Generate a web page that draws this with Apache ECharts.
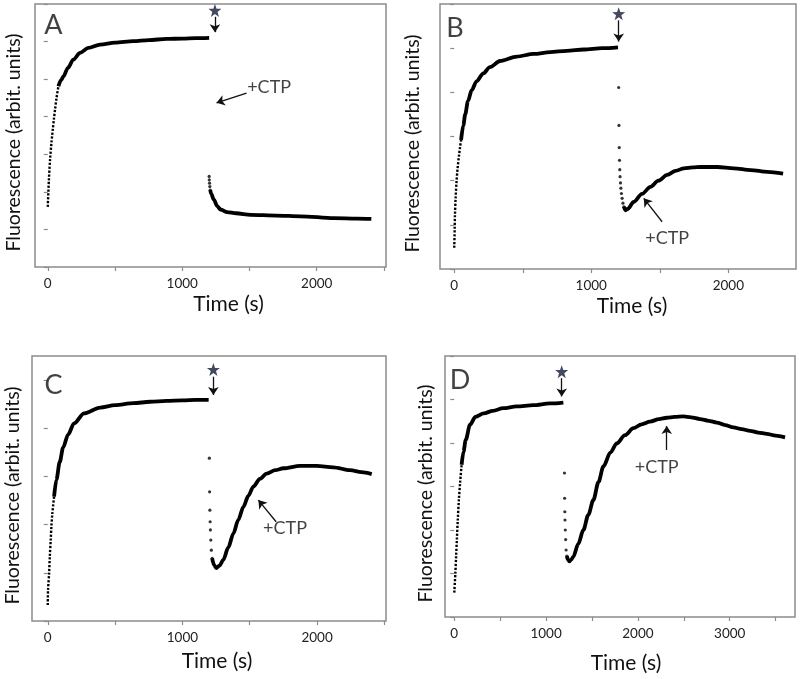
<!DOCTYPE html>
<html>
<head>
<meta charset="utf-8">
<script src="https://cdn.jsdelivr.net/npm/echarts@6/dist/echarts.min.js"></script>
<style>
html,body{margin:0;padding:0;background:#fff;}
#chart{width:800px;height:679px;}
</style>
</head>
<body>
<div id="chart"></div>
<script>
// ---------------- DATA (time in s, fluorescence in arbitrary units) ----------------
// Panel A
const riseSparseA = [[0,1.60],[8,2.3],[17,2.86],[27,3.3],[37,3.65],[46,3.95],[54,4.19],[65,4.5],[79,4.81]];
const riseDenseA = [[79,4.81],[100,4.98],[116,5.07],[150,5.3],[190,5.52],[240,5.7],[301,5.83],[389,5.92],[500,5.97],[636,6.01],[750,6.04],[884,6.07],[1000,6.08],[1100,6.09],[1200,6.10]];
const dropA = [[1200,2.41],[1201,2.32],[1203,2.23],[1205,2.14],[1208,2.05]];
const recoverA = [[1208,2.05],[1215,1.95],[1235,1.79],[1260,1.62],[1285,1.53],[1334,1.46],[1400,1.43],[1508,1.39],[1700,1.37],[1880,1.35],[2128,1.30],[2300,1.29],[2406,1.28]];
// Panel B
const riseSparseB = [[0,0.48],[3,0.9],[5,1.2],[10,1.6],[17,2.0],[25,2.3],[34,2.55],[42,2.75],[50,2.92]];
const riseDenseB = [[50,2.92],[66,3.25],[80,3.5],[100,3.8],[127,4.05],[163,4.25],[212,4.43],[260,4.57],[334,4.71],[456,4.81],[580,4.87],[700,4.91],[820,4.94],[944,4.97],[1080,5.0],[1195,5.02]];
const dropB = [[1200,4.11],[1202,3.25],[1204,2.75],[1206,2.46],[1208,2.25],[1210,2.09],[1213,1.95],[1216,1.83],[1220,1.71],[1225,1.6],[1231,1.49],[1238,1.41]];
const recoverB = [[1238,1.41],[1250,1.33],[1265,1.36],[1310,1.52],[1370,1.7],[1432,1.86],[1490,2.0],[1554,2.13],[1615,2.22],[1676,2.28],[1740,2.3],[1798,2.31],[1920,2.31],[2041,2.28],[2163,2.24],[2285,2.20],[2400,2.16]];
// Panel C
const riseSparseC = [[0,0.33],[2,0.64],[10,0.99],[15,1.33],[22,1.68],[27,1.96],[34,2.23],[47,2.58]];
const riseDenseC = [[47,2.58],[64,2.93],[89,3.3],[114,3.6],[151,3.87],[195,4.1],[270,4.31],[389,4.43],[500,4.48],[636,4.52],[760,4.55],[884,4.57],[1000,4.58],[1100,4.59],[1195,4.59]];
const dropC = [[1200,3.38],[1202,2.68],[1204,2.30],[1206,2.06],[1208,1.89],[1211,1.68],[1215,1.47],[1221,1.3]];
const recoverC = [[1221,1.3],[1235,1.16],[1252,1.10],[1275,1.15],[1304,1.27],[1340,1.52],[1379,1.82],[1415,2.1],[1453,2.37],[1490,2.6],[1527,2.79],[1575,2.95],[1626,3.06],[1690,3.13],[1750,3.17],[1874,3.22],[1998,3.22],[2121,3.19],[2245,3.13],[2330,3.09],[2406,3.05]];
// Panel D
const riseSparseD = [[0,0.56],[12,1.01],[20,1.39],[28,1.77],[38,2.23],[50,2.69],[64,3.1],[80,3.5]];
const riseDenseD = [[80,3.5],[100,3.8],[125,4.07],[171,4.42],[230,4.6],[320,4.68],[420,4.74],[534,4.8],[679,4.84],[861,4.87],[1042,4.91],[1188,4.93]];
const dropD = [[1200,3.31],[1202,2.73],[1204,2.42],[1206,2.23],[1209,2.0],[1213,1.78],[1218,1.54],[1226,1.4]];
const recoverD = [[1226,1.4],[1238,1.32],[1252,1.28],[1275,1.32],[1297,1.39],[1350,1.68],[1406,2.0],[1460,2.35],[1515,2.69],[1570,3.1],[1624,3.46],[1700,3.78],[1769,3.99],[1860,4.18],[1951,4.34],[2040,4.43],[2132,4.49],[2230,4.55],[2314,4.58],[2400,4.60],[2495,4.61],[2580,4.59],[2677,4.55],[2770,4.51],[2859,4.47],[2950,4.41],[3040,4.36],[3130,4.32],[3222,4.28],[3310,4.24],[3404,4.21],[3500,4.17],[3603,4.13]];

// Tick values
const xTicks3 = [0,500,1000,1500,2000,2500];
const xLabels3 = [0,1000,2000];
const xTicks4 = [0,500,1000,1500,2000,2500,3000,3500];
const xLabels4 = [0,1000,2000,3000];
const yTicks7 = [0,1,2,3,4,5,6,7];
const yTicks6 = [0,1,2,3,4,5,6];
const yTicks5 = [0,1,2,3,4,5];

const panelLetters = ['A','B','C','D'];
const xTitle = 'Time (s)';
const yTitle = 'Fluorescence (arbit. units)';
const ctpText = '+CTP';

// ---------------- LAYOUT / ANNOTATION CONFIG ----------------
const panels = [
  {grid:{left:35,top:4,width:351,height:263}, x:[-95,2515], y:[0,7], xt:xTicks3, xl:xLabels3, yt:yTicks7, yGap:11, xGap:27, xPad:36,
   rs:riseSparseA, rd:riseDenseA, dr:dropA, rc:recoverA,
   letter:[42,6.42], star:[1243,6.83], starArrow:[[1243,6.66],[1243,6.25]], ctp:[1646,4.79], ctpArrow:[[1478,4.63],[1255,4.37]]},
  {grid:{left:440,top:4,width:356,height:265}, x:[-104,2494], y:[0,6], xt:xTicks3, xl:xLabels3, yt:yTicks6, yGap:17, xGap:27, xPad:28,
   rs:riseSparseB, rd:riseDenseB, dr:dropB, rc:recoverB,
   letter:[5,5.45], star:[1200,5.78], starArrow:[[1200,5.63],[1200,5.15]], ctp:[1554,0.69], ctpArrow:[[1517,1.07],[1383,1.60]]},
  {grid:{left:32,top:356,width:354,height:265}, x:[-117,2512], y:[0,5.5], xt:xTicks3, xl:xLabels3, yt:yTicks5, yGap:9, xGap:30, xPad:16,
   rs:riseSparseC, rd:riseDenseC, dr:dropC, rc:recoverC,
   letter:[42,4.90], star:[1230,5.22], starArrow:[[1230,5.07],[1230,4.69]], ctp:[1762,1.92], ctpArrow:[[1696,2.06],[1564,2.51]]},
  {grid:{left:445,top:356,width:350,height:261}, x:[-101,3711], y:[0,6], xt:xTicks4, xl:xLabels4, yt:yTicks6, yGap:9, xGap:36, xPad:12,
   rs:riseSparseD, rd:riseDenseD, dr:dropD, rc:recoverD,
   letter:[62,5.45], star:[1170,5.64], starArrow:[[1170,5.49],[1170,5.07]], ctp:[2205,3.44], ctpArrow:[[2314,3.84],[2314,4.39]]}
];

const FONT = 'Lato, "Open Sans", sans-serif';
const AX = '#8c8c8c';
const starPath = 'path://M12 0 L14.9 8.1 L23.4 8.2 L16.6 13.3 L19.1 21.5 L12 16.6 L4.9 21.5 L7.4 13.3 L0.6 8.2 L9.1 8.1 Z';

const grids = [], xAxes = [], yAxes = [], series = [];
panels.forEach((p, i) => {
  grids.push(Object.assign({show:true, borderColor:AX, borderWidth:1.5, backgroundColor:'#fff'}, p.grid));
  xAxes.push({
    type:'value', gridIndex:i, min:p.x[0], max:p.x[1],
    axisLine:{show:false}, splitLine:{show:false},
    axisTick:{show:true, inside:false, length:4, lineStyle:{color:AX, width:1.2}, customValues:p.xt},
    axisLabel:{show:true, margin:10, fontSize:13.5, color:'#222', fontFamily:FONT, customValues:p.xl, formatter:v=>String(v)},
    name:xTitle, nameLocation:'middle', nameGap:p.xGap,
    nameTextStyle:{fontSize:21, color:'#111', fontFamily:FONT, padding:[0,0,0,p.xPad]}
  });
  yAxes.push({
    type:'value', gridIndex:i, min:p.y[0], max:p.y[1],
    axisLine:{show:false}, splitLine:{show:false},
    axisTick:{show:true, inside:false, length:4, lineStyle:{color:AX, width:1.2}, customValues:p.yt},
    axisLabel:{show:false, customValues:p.yt},
    name:yTitle, nameLocation:'middle', nameGap:p.yGap, nameRotate:90,
    nameTextStyle:{fontSize:19.5, color:'#111', fontFamily:FONT, padding:[0,0,0,-14]}
  });
  const ax = {xAxisIndex:i, yAxisIndex:i, silent:true, animation:false};
  series.push(Object.assign({type:'line', data:p.rs, showSymbol:false, smooth:0.3,
    lineStyle:{color:'#000', width:2.4, type:[2.2,1.6]}}, ax));
  series.push(Object.assign({type:'line', data:p.rd, showSymbol:false, smooth:0.3, smoothMonotone:'x',
    lineStyle:{color:'#000', width:3.8}}, ax));
  series.push(Object.assign({type:'scatter', data:p.dr, symbol:'circle', symbolSize:3.2,
    itemStyle:{color:'#000'}}, ax));
  series.push(Object.assign({type:'line', data:p.rc, showSymbol:false, smooth:0.3, smoothMonotone:'x',
    lineStyle:{color:'#000', width:3.8}}, ax));
  // star marker with arrows
  series.push(Object.assign({type:'scatter', data:[p.star], symbol:starPath, symbolSize:13,
    itemStyle:{color:'#141d38'},
    markLine:{silent:true, animation:false, symbol:['none','arrow'], symbolSize:8,
      lineStyle:{color:'#111', width:1.3, type:'solid'}, label:{show:false},
      emphasis:{disabled:true},
      data:[[{coord:p.starArrow[0]},{coord:p.starArrow[1]}],[{coord:p.ctpArrow[0]},{coord:p.ctpArrow[1]}]]}
  }, ax));
  // text labels: panel letter and +CTP
  series.push(Object.assign({type:'scatter', symbolSize:0, data:[
      {value:p.letter, label:{show:true, formatter:panelLetters[i], fontSize:27, fontFamily:FONT, color:'#111', position:'inside', align:'center', verticalAlign:'middle'}},
      {value:p.ctp, label:{show:true, formatter:ctpText, fontSize:18, fontFamily:FONT, color:'#111', position:'inside', align:'center', verticalAlign:'middle'}}
    ]}, ax));
});

const chart = echarts.init(document.getElementById('chart'), null, {renderer:'canvas'});
chart.setOption({
  animation:false,
  backgroundColor:'#fff',
  grid:grids, xAxis:xAxes, yAxis:yAxes, series:series
});
</script>
</body>
</html>
